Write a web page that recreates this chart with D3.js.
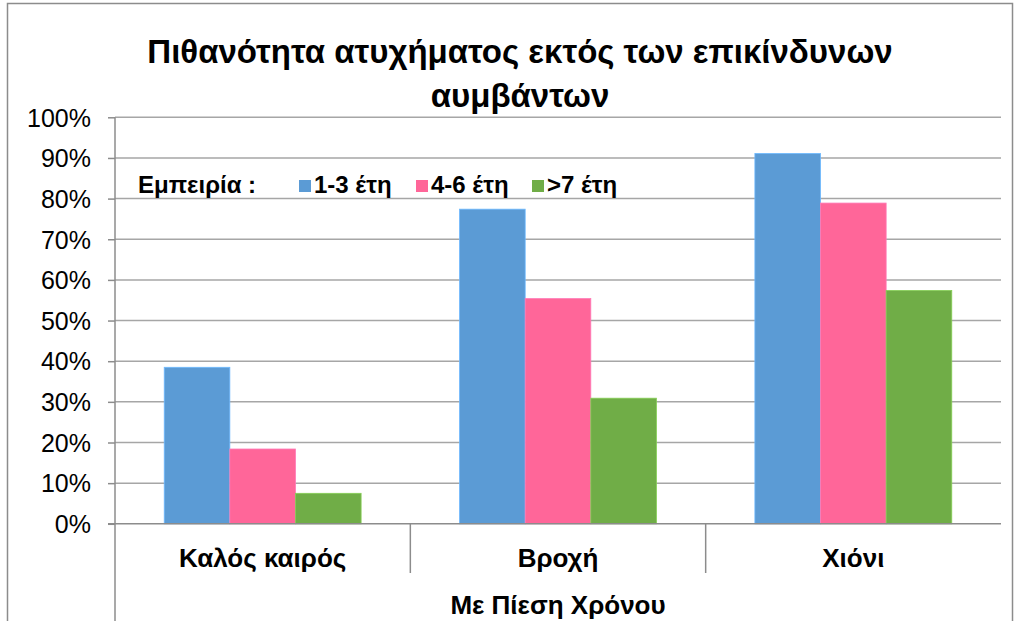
<!DOCTYPE html>
<html>
<head>
<meta charset="utf-8">
<script src="https://cdn.jsdelivr.net/npm/d3@7"></script>
<style>
  html, body { margin: 0; padding: 0; background: #fff; }
  svg { display: block; font-family: "Liberation Sans", Arial, sans-serif; }
</style>
</head>
<body>
<svg id="chart" width="1020" height="621"></svg>
<script>
// ---- data ----
const categories = ["Καλός καιρός", "Βροχή", "Χιόνι"];
const seriesNames = ["1-3 έτη", "4-6 έτη", ">7 έτη"];
const seriesColors = ["#5B9BD5", "#FF6699", "#70AD47"];
const values13 = [0.385, 0.774, 0.911];
const values46 = [0.184, 0.554, 0.789];
const values7 = [0.075, 0.309, 0.574];
const yTicks = [0, 0.1, 0.2, 0.3, 0.4, 0.5, 0.6, 0.7, 0.8, 0.9, 1.0];
const titleLines = ["Πιθανότητα ατυχήματος εκτός των επικίνδυνων", "αυμβάντων"];
const legendLabel = "Εμπειρία :";
const outerCategory = "Με Πίεση Χρόνου";

const seriesValues = [values13, values46, values7];

const svg = d3.select("#chart");
const plot = { left: 115, right: 1001, top: 117.3, bottom: 523.8 };

// chart border
svg.append("rect")
  .attr("x", 7.5).attr("y", 3.5).attr("width", 1005).attr("height", 640)
  .attr("fill", "none").attr("stroke", "#8c8c8c").attr("stroke-width", 1.5);

const x0 = d3.scaleBand().domain(categories).range([plot.left, plot.right]).paddingInner(0).paddingOuter(0);
const x1 = d3.scaleBand().domain(seriesNames).range([0, x0.bandwidth()]).paddingInner(0).paddingOuter(0.75);
const y = d3.scaleLinear().domain([0, 1]).range([plot.bottom, plot.top]);

// gridlines
svg.append("g")
  .selectAll("line").data(yTicks.filter(d => d > 0)).join("line")
  .attr("x1", plot.left).attr("x2", plot.right)
  .attr("y1", d => y(d)).attr("y2", d => y(d))
  .attr("stroke", "#a6a6a6").attr("stroke-width", 1.5);

// bars
const groups = svg.append("g").selectAll("g").data(categories).join("g")
  .attr("transform", d => `translate(${x0(d)},0)`);
groups.selectAll("rect")
  .data((c, ci) => seriesNames.map((s, si) => ({ s, si, v: seriesValues[si][ci] })))
  .join("rect")
  .attr("x", d => x1(d.s))
  .attr("width", x1.bandwidth())
  .attr("y", d => y(d.v))
  .attr("height", d => y(0) - y(d.v))
  .attr("fill", d => seriesColors[d.si])
  .attr("stroke", d => d3.color(seriesColors[d.si]).brighter(0.5))
  .attr("stroke-width", 0.8);

// y axis
const yAxis = d3.axisLeft(y).tickValues(yTicks).tickFormat(d3.format(".0%")).tickSize(7).tickPadding(17);
const yg = svg.append("g").attr("transform", `translate(${plot.left},0)`).call(yAxis);
yg.select(".domain").remove();
yg.selectAll(".tick line").attr("stroke", "#8c8c8c").attr("stroke-width", 1.5);
yg.selectAll(".tick text").attr("font-size", 25).attr("fill", "#000")
  .attr("font-family", "Liberation Sans, Arial, sans-serif").attr("dy", "0.35em");
svg.append("line").attr("x1", plot.left).attr("x2", plot.left)
  .attr("y1", plot.top).attr("y2", 621)
  .attr("stroke", "#8c8c8c").attr("stroke-width", 1.5);

// x axis
const xAxis = d3.axisBottom(x0).tickSize(0).tickPadding(0);
const xg = svg.append("g").attr("transform", `translate(0,${plot.bottom})`).call(xAxis);
xg.select(".domain").attr("stroke", "#8c8c8c").attr("stroke-width", 1.5)
  .attr("d", `M${plot.left - 7},0H${plot.right}`);
xg.selectAll(".tick text").attr("font-size", 26).attr("font-weight", "bold").attr("fill", "#000")
  .attr("font-family", "Liberation Sans, Arial, sans-serif").attr("y", 43).attr("dy", 0);
// category separators
svg.append("g").selectAll("line").data(categories.slice(1)).join("line")
  .attr("x1", d => x0(d)).attr("x2", d => x0(d))
  .attr("y1", plot.bottom).attr("y2", 573)
  .attr("stroke", "#8c8c8c").attr("stroke-width", 1.5);

svg.append("text").attr("x", (plot.left + plot.right) / 2).attr("y", 614)
  .attr("text-anchor", "middle").attr("font-size", 26).attr("font-weight", "bold")
  .text(outerCategory);

// title
svg.append("g").selectAll("text").data(titleLines).join("text")
  .attr("x", 520).attr("y", (d, i) => 63 + i * 44)
  .attr("text-anchor", "middle").attr("font-size", 33).attr("font-weight", "bold")
  .text(d => d);

// legend
const lg = svg.append("g");
lg.append("text").attr("x", 138).attr("y", 193).attr("font-size", 24).attr("font-weight", "bold").text(legendLabel);
const legendX = [299, 416, 532];
seriesNames.forEach((s, i) => {
  lg.append("rect").attr("x", legendX[i]).attr("y", 180).attr("width", 12).attr("height", 12).attr("fill", seriesColors[i]);
  lg.append("text").attr("x", legendX[i] + 15).attr("y", 193).attr("font-size", 24).attr("font-weight", "bold").text(s);
});
</script>
</body>
</html>
